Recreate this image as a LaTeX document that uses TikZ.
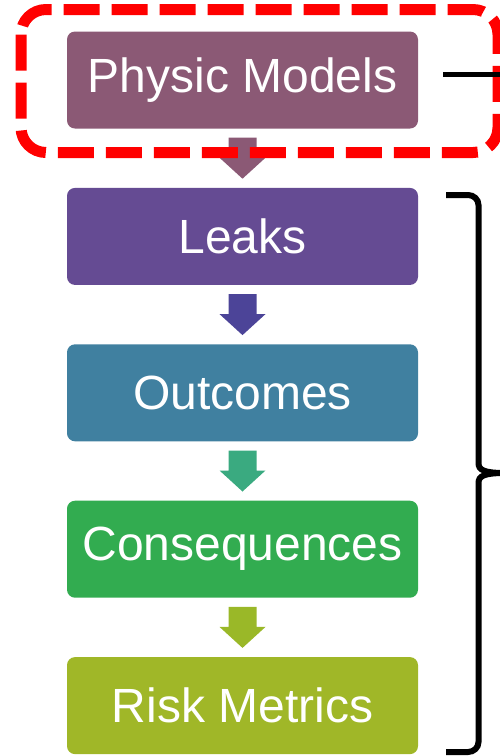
\documentclass[tikz,border=0pt]{standalone}
\usepackage{fontspec}
\setmainfont{Liberation Sans}
\usepackage{xcolor}
\usepackage{tikz}
\usetikzlibrary{calc, positioning}

\definecolor{physcol}{HTML}{8B5975}
\definecolor{leakcol}{HTML}{654B93}
\definecolor{outccol}{HTML}{4080A0}
\definecolor{conscol}{HTML}{32AC50}
\definecolor{riskcol}{HTML}{A0B728}
\definecolor{arrleak}{HTML}{4C4498}
\definecolor{arroutc}{HTML}{3AAA80}
\definecolor{arrcons}{HTML}{9AB828}

\tikzset{
    stagebox/.style={rectangle, rounded corners=8pt, minimum width=351pt,
        minimum height=97pt, text=white, font=\fontsize{48}{53}\selectfont},
    redframe/.style={red, line width=11pt, dash pattern=on 36pt off 12pt,
        rounded corners=25pt},
    bracket/.style={black, line width=6pt}
}

% mũi tên khối giữa hai khối
\newcommand{\blockarrow}[3]{%
    \fill[#3] ($(#1.south)+(-14,-9)$) -- ($(#1.south)+(14,-9)$)
        -- ($(#1.south)+(14,-29)$) -- ($(#1.south)+(23,-29)$)
        -- ($(#2.north)+(0,9)$)
        -- ($(#1.south)+(-23,-29)$) -- ($(#1.south)+(-14,-29)$) -- cycle;}

\begin{document}
\begin{tikzpicture}[x=1pt, y=1pt, node distance=59pt]
    \useasboundingbox (0,0) rectangle (500,-756);

    % Các khối
    \node[stagebox, fill=physcol] (phys) at (242.5,-80) {Physic Models};
    \node[stagebox, fill=leakcol, below=of phys] (leaks) {Leaks};
    \node[stagebox, fill=outccol, below=of leaks] (outc) {Outcomes};
    \node[stagebox, fill=conscol, below=of outc] (cons) {Consequences};
    \node[stagebox, fill=riskcol, below=of cons] (risk) {Risk Metrics};

    % Mũi tên
    \blockarrow{phys}{leaks}{physcol}
    \blockarrow{leaks}{outc}{arrleak}
    \blockarrow{outc}{cons}{arroutc}
    \blockarrow{cons}{risk}{arrcons}

    % Khung nét đứt màu đỏ và đường ra ngoài
    \draw[redframe] (21,-9.5) rectangle (498,-152.5);
    \draw[line width=5.5pt] ([xshift=25pt, yshift=5.5pt]phys.east) -- ++(70,0);

    % Dấu ngoặc nhọn
    \draw[bracket] (446,-195) -- (468,-195) to[out=0, in=90] (478.5,-205)
        -- (478.5,-463) .. controls (478.5,-470) and (484,-473) .. (505,-473)
        .. controls (484,-473) and (478.5,-476) .. (478.5,-483)
        -- (478.5,-742) to[out=-90, in=0] (468,-752) -- (446,-752);
\end{tikzpicture}
\end{document}
